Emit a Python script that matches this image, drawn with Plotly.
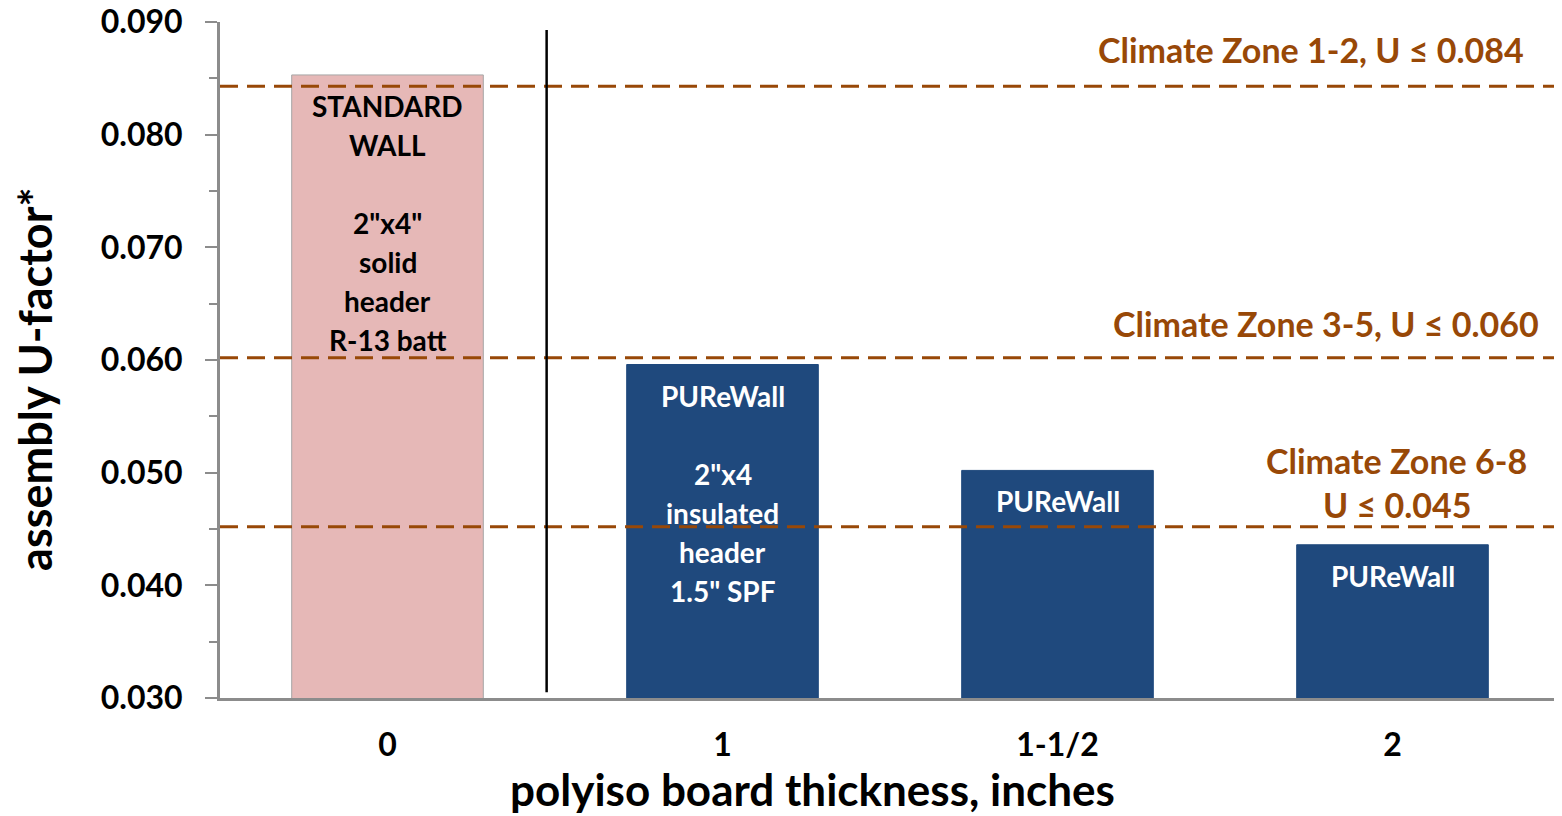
import plotly.graph_objects as go

# ---- data ----
categories = ["0", "1", "1-1/2", "2"]
u_values = [0.0853, 0.0596, 0.0502, 0.0436]
bar_colors = ["#E6B8B7", "#1F497D", "#1F497D", "#1F497D"]
bar_line_colors = ["#A6A6A6", "#1F497D", "#1F497D", "#1F497D"]
bar_label_lines = [
    ["STANDARD", "WALL", "", "2\"x4\"", "solid", "header", "R-13 batt"],
    ["PUReWall", "", "2\"x4", "insulated", "header", "1.5\" SPF"],
    ["PUReWall"],
    ["PUReWall"],
]
label_colors = ["black", "white", "white", "white"]

zone_limits = [0.0843, 0.0602, 0.0452]
zone_texts = [["Climate Zone 1-2, U \u2264 0.084"],
              ["Climate Zone 3-5, U \u2264 0.060"],
              ["Climate Zone 6-8", "U \u2264 0.045"]]
zone_text_y = [[0.0876], [0.0632], [0.0511, 0.0472]]
zone_text_x = [0.9745, 0.986, 0.878]
zone_text_anchor = ["right", "right", "center"]

separator_x = 0.475
separator_y = [0.0305, 0.0893]

y_range = [0.030, 0.0900001]
y_ticks = [0.030, 0.040, 0.050, 0.060, 0.070, 0.080, 0.090]
y_tick_text = ["0.030", "0.040", "0.050", "0.060", "0.070", "0.080", "0.090"]

x_title = "polyiso board thickness, inches"
y_title = "assembly U-factor*"

FONT = "Lato"
BROWN = "#984807"

fig = go.Figure()
fig.add_trace(go.Bar(
    x=list(range(len(categories))), y=u_values, width=0.572,
    marker=dict(color=bar_colors, line=dict(color=bar_line_colors, width=1)),
    hoverinfo="skip", showlegend=False,
))

# threshold dashed lines (drawn above bars)
for v in zone_limits:
    fig.add_shape(type="line", xref="paper", yref="y", x0=0, x1=1, y0=v, y1=v,
                  line=dict(color=BROWN, width=3, dash="18px,9px"), layer="above")

# separator
fig.add_shape(type="line", xref="x", yref="y", x0=separator_x, x1=separator_x,
              y0=separator_y[0], y1=separator_y[1],
              line=dict(color="black", width=2.5), layer="above")

annotations = []
for ci, (val, lines, col) in enumerate(zip(u_values, bar_label_lines, label_colors)):
    for li, t in enumerate(lines):
        if not t:
            continue
        annotations.append(dict(x=ci, y=val, xref="x", yref="y", text=t,
                                showarrow=False, yanchor="middle", xanchor="center",
                                yshift=-(31 + li * 39),
                                font=dict(family=FONT, size=28, color=col, weight="bold")))

for texts, ys, xx, anc in zip(zone_texts, zone_text_y, zone_text_x, zone_text_anchor):
    for t, yy in zip(texts, ys):
        annotations.append(dict(x=xx, y=yy, xref="paper", yref="y", text=t,
                                showarrow=False, xanchor=anc, yanchor="middle",
                                font=dict(family=FONT, size=34, color=BROWN, weight="bold")))

# axis titles
annotations.append(dict(x=0.442, y=0, xref="paper", yref="paper", text=x_title,
                        showarrow=False, xanchor="center", yanchor="middle", yshift=-91,
                        font=dict(family=FONT, size=44, color="black", weight="bold")))
annotations.append(dict(x=0, y=0.472, xref="paper", yref="paper", text=y_title,
                        showarrow=False, xanchor="center", yanchor="middle", xshift=-185,
                        textangle=-90,
                        font=dict(family=FONT, size=45, color="black", weight="bold")))

fig.update_layout(
    width=1554, height=808,
    margin=dict(l=212, r=2, t=14, b=118, autoexpand=False),
    paper_bgcolor="white", plot_bgcolor="white",
    font=dict(family=FONT, color="black"),
    annotations=annotations,
)
fig.update_xaxes(
    range=[-0.5, 3.5], tickvals=list(range(len(categories))), ticktext=categories,
    showline=True, linecolor="#8C8C8C", linewidth=3,
    ticks="", showgrid=False, zeroline=False, automargin=False,
    tickfont=dict(family=FONT, size=32, color="black", weight="bold"),
    ticklabelstandoff=17,
)
fig.update_yaxes(
    range=y_range, tickvals=y_ticks, ticktext=y_tick_text,
    showline=True, linecolor="#8C8C8C", linewidth=3,
    ticks="outside", ticklen=12, tickwidth=2, tickcolor="#8C8C8C",
    minor=dict(dtick=0.005, ticks="outside", ticklen=8, tickwidth=2, tickcolor="#8C8C8C", showgrid=False),
    showgrid=False, zeroline=False, automargin=False,
    tickfont=dict(family=FONT, size=32, color="black", weight="bold"),
    ticklabelstandoff=16,
    ticklabeloverflow="allow",
)

fig.write_html("out.html")
